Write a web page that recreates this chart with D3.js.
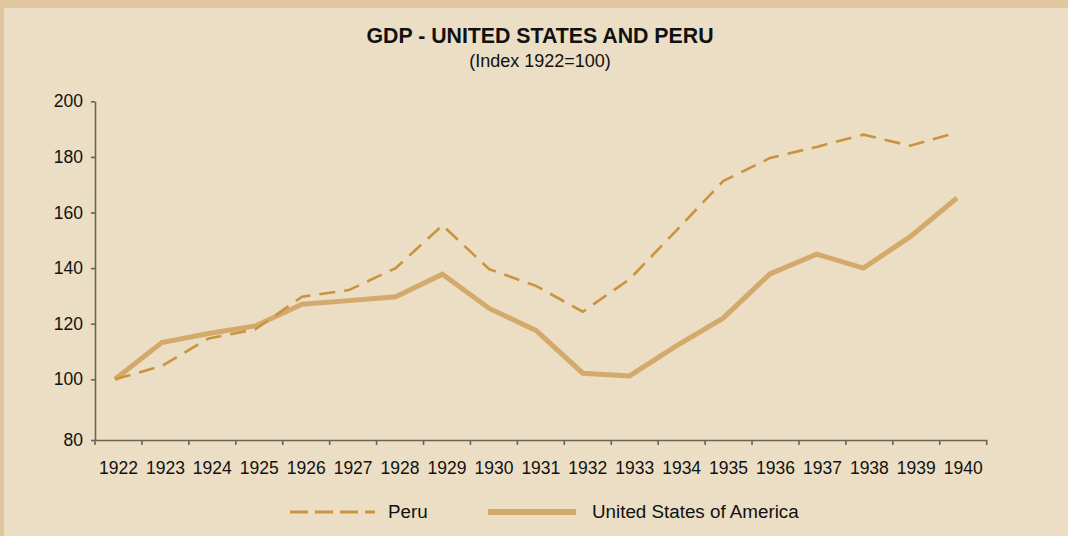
<!DOCTYPE html>
<html>
<head>
<meta charset="utf-8">
<script src="https://cdn.jsdelivr.net/npm/d3@7"></script>
<style>
  html, body { margin: 0; padding: 0; background: #e0c7a0; }
  svg { display: block; }
</style>
</head>
<body>
<svg id="chart" width="1068" height="536"></svg>
<script>
'use strict';

var years = ['1922', '1923', '1924', '1925', '1926', '1927', '1928', '1929', '1930', '1931',
             '1932', '1933', '1934', '1935', '1936', '1937', '1938', '1939', '1940'];
var peru = [100, 104.8, 114.7, 118, 129.7, 132.1, 140, 155.4, 139.6, 133.6,
            124.3, 136, 153.5, 171.3, 179.6, 183.6, 188, 184, 188.8];
var usa = [100, 113.2, 116.5, 119.2, 127, 128.3, 129.7, 137.8, 125.5, 117.6,
           102.2, 101.2, 112, 122, 137.9, 145, 140, 151.3, 165.2];
var yTicks = [80, 100, 120, 140, 160, 180, 200];

var svg = d3.select('#chart');

// panel (the tan frame shows on top and left)
svg.append('rect')
  .attr('x', 4).attr('y', 8)
  .attr('width', 1068).attr('height', 536)
  .style('fill', '#ebdec4');

var plotLeft = 95, plotRight = 986.7, plotTop = 101.3, plotBottom = 440;

var xBand = d3.scaleBand().domain(years).range([plotLeft, plotRight]);
var xPoint = d3.scalePoint().domain(years).range([115, 957]);
// the original axis has a longer step between 80 and 100
var y = d3.scaleLinear().domain([80, 100, 200]).range([plotBottom, 379.3, plotTop]);

var axisColor = '#6b6356';
var font = '"Liberation Sans", Arial, sans-serif';

// y axis
var yAxis = svg.append('g')
  .attr('transform', 'translate(' + plotLeft + ',0)')
  .call(d3.axisLeft(y).tickValues(yTicks).tickSize(4).tickPadding(8).tickSizeOuter(0));

// x axis, ticks between categories
var xAxis = svg.append('g')
  .attr('transform', 'translate(0,' + plotBottom + ')')
  .call(d3.axisBottom(xBand).tickSize(0).tickPadding(22).tickSizeOuter(0));

xAxis.selectAll('.boundary')
  .data(years.concat(['end']))
  .enter().append('line')
  .attr('class', 'boundary')
  .attr('x1', function (d, i) { return plotLeft + i * xBand.step(); })
  .attr('x2', function (d, i) { return plotLeft + i * xBand.step(); })
  .attr('y1', 0).attr('y2', 5)
  .style('stroke', axisColor).style('stroke-width', 1.6);

[yAxis, xAxis].forEach(function (g) {
  g.select('.domain').style('stroke', axisColor).style('stroke-width', 1.6);
  g.selectAll('.tick line').style('stroke', axisColor).style('stroke-width', 1.6);
  g.selectAll('text')
    .style('font-family', font).style('font-size', '17.5px').style('fill', '#111');
});

var line = function (vals) {
  return d3.line()
    .x(function (d, i) { return xPoint(years[i]); })
    .y(function (d) { return y(d); })(vals);
};

svg.append('path')
  .attr('d', line(usa))
  .style('fill', 'none')
  .style('stroke', '#d4aa6c')
  .style('stroke-width', 5);

svg.append('path')
  .attr('d', line(peru))
  .style('fill', 'none')
  .style('stroke', '#c9943e')
  .style('stroke-width', 2.6)
  .style('stroke-dasharray', '16,9');

// titles
svg.append('text')
  .attr('x', 540).attr('y', 43)
  .attr('text-anchor', 'middle')
  .style('font-family', font).style('font-size', '21.3px').style('font-weight', 'bold')
  .style('fill', '#111')
  .text('GDP - UNITED STATES AND PERU');

svg.append('text')
  .attr('x', 540).attr('y', 67)
  .attr('text-anchor', 'middle')
  .style('font-family', font).style('font-size', '18px')
  .style('fill', '#111')
  .text('(Index 1922=100)');

// legend
var legend = svg.append('g');
legend.append('line')
  .attr('x1', 290).attr('x2', 375).attr('y1', 512).attr('y2', 512)
  .style('stroke', '#c9943e').style('stroke-width', 2.8)
  .style('stroke-dasharray', '18,7');
legend.append('text')
  .attr('x', 388).attr('y', 518)
  .style('font-family', font).style('font-size', '18.8px').style('fill', '#111')
  .text('Peru');
legend.append('line')
  .attr('x1', 488).attr('x2', 576).attr('y1', 512).attr('y2', 512)
  .style('stroke', '#d4aa6c').style('stroke-width', 6);
legend.append('text')
  .attr('x', 592).attr('y', 518)
  .style('font-family', font).style('font-size', '18.8px').style('fill', '#111')
  .text('United States of America');
</script>
</body>
</html>
